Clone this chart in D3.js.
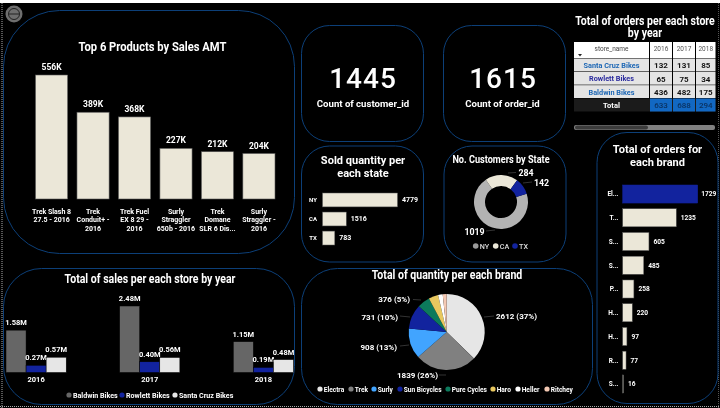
<!DOCTYPE html>
<html><head><meta charset="utf-8">
<script src="https://cdn.jsdelivr.net/npm/d3@7/dist/d3.min.js"></script>
<style>html,body{margin:0;padding:0;background:#000;overflow:hidden}svg{display:block;filter:blur(0.35px)}text{font-family:Roboto,sans-serif;fill:#fff}</style>
</head><body><svg id="c" width="720" height="408"></svg>
<script>
const productNames=[["Trek Slash 8","27.5 - 2016"],["Trek","Conduit+ -","2016"],["Trek Fuel","EX 8 29 -","2016"],["Surly","Straggler","650b - 2016"],["Trek","Domane","SLR 6 Dis..."],["Surly","Straggler -","2016"]];
const productSales=[556,389,368,227,212,204];
const years=["2016","2017","2018"];
const stores=["Baldwin Bikes","Rowlett Bikes","Santa Cruz Bikes"];
const baldwinSales=[1.58,2.48,1.15];
const rowlettSales=[0.27,0.40,0.19];
const santaCruzSales=[0.57,0.56,0.48];
const states=["NY","CA","TX"];
const stateQuantity=[4779,1516,783];
const stateCustomers=[1019,284,142];
const brandLabels=["El...","T...","S...","S...","P...","H...","H...","R...","S..."];
const brandOrders=[1729,1235,605,485,258,220,97,77,16];
const pieBrands=["Electra","Trek","Surly","Sun Bicycles","Pure Cycles","Haro","Heller","Ritchey"];
const pieQuantity=[2612,1839,908,731,376,287,137,118];
const tableStores=["Santa Cruz Bikes","Rowlett Bikes","Baldwin Bikes"];
const tableRows=[[132,131,85],[65,75,34],[436,482,175]];
const tableTotals=[633,688,294];
const cream="#ebe7d8",navy="#12239e",border="#0c3f78";
const svg=d3.select("#c");
function T(x,y,s,size,w,anchor,fill){const t=svg.append("text").attr("x",x).attr("y",y).attr("font-size",size).attr("font-weight",w||700).attr("text-anchor",anchor||"middle").text(s);if(fill)t.style("fill",fill);return t;}
// Title: same text helper, horizontally narrowed to imitate the condensed heading face
function H(x,y,s,size,k){return T(x,y,s,size).attr("transform",`translate(${x},${y}) scale(${k||0.88},1) translate(${-x},${-y})`);}
function panel(x,y,w,h,r){svg.append("rect").attr("x",x).attr("y",y).attr("width",w).attr("height",h).attr("rx",r).attr("fill","none").attr("stroke",border).attr("stroke-width",1);}

// chrome
svg.append("rect").attr("width",720).attr("height",3).attr("fill","#fff");
svg.append("line").attr("x1",2).attr("x2",2).attr("y1",3).attr("y2",408).attr("stroke","#aaa").attr("stroke-dasharray","1 1");
svg.append("line").attr("x1",0).attr("x2",720).attr("y1",406.5).attr("y2",406.5).attr("stroke","#aaa").attr("stroke-dasharray","1 1");
svg.append("line").attr("x1",718.5).attr("x2",718.5).attr("y1",3).attr("y2",408).attr("stroke","#555").attr("stroke-dasharray","1 1");
svg.append("circle").attr("cx",14).attr("cy",14).attr("r",8.5).attr("fill","#6e6e6e");
svg.append("circle").attr("cx",14).attr("cy",14).attr("r",5.5).attr("fill","none").attr("stroke","#222").attr("stroke-width",1);
svg.append("path").attr("d",d3.line()([[9,14],[19,14]])).attr("stroke","#222");

// Panels
panel(3.5,10.5,291,243,56);
panel(3.5,268.5,291,136,38);
panel(301.5,25.5,122,116,28);
panel(443.5,25.5,122,116,28);
panel(301.5,146,122,116,28);
panel(444,146,122,116,28);
panel(301.5,268.5,291,136,36);
panel(597,132.5,121,271,30);

// Top products
H(152.5,51,"Top 6 Products by Sales AMT",12.8,0.875);
const px=d3.scaleBand().domain(d3.range(6)).range([35.5,275]).paddingInner(0.225);
const py=d3.scaleLinear().domain([0,556]).range([199,75]);
svg.append("g").selectAll("rect").data(productSales).join("rect")
 .attr("x",(d,i)=>px(i)).attr("width",px.bandwidth()).attr("y",d=>py(d)).attr("height",d=>199-py(d))
 .attr("fill",cream).attr("stroke","#555").attr("stroke-width",.6);
productSales.forEach((d,i)=>{const cx=px(i)+px.bandwidth()/2;
 T(cx,py(d)-5,d+"K",8.5);
 productNames[i].forEach((l,j)=>T(cx,213.5+j*8.6,l,7));
});

// Sales per store
H(150,283,"Total of sales per each store by year",12);
const gx=d3.scaleBand().domain(years).range([6,293.5]).paddingInner(0.47);
const sx=d3.scaleBand().domain(stores).range([0,gx.bandwidth()]);
const sy=d3.scaleLinear().domain([0,2.48]).range([372.5,306]);
const storeSeries=[baldwinSales,rowlettSales,santaCruzSales];
const storeColors=["#666666",navy,"#e6e6e6"];
stores.forEach((s,k)=>{
 svg.append("g").selectAll("rect").data(storeSeries[k]).join("rect")
  .attr("x",(d,i)=>gx(years[i])+sx(s)).attr("width",sx.bandwidth()).attr("y",d=>sy(d)).attr("height",d=>372.5-sy(d))
  .attr("fill",storeColors[k]).attr("stroke","#000").attr("stroke-width",.5);
 storeSeries[k].forEach((d,i)=>T(gx(years[i])+sx(s)+sx.bandwidth()/2,sy(d)-5,d.toFixed(2)+"M",7.5));
});
years.forEach(y=>T(gx(y)+gx.bandwidth()/2,382,y,7.5));
const legS=[[69,"#666"],[122,navy],[175,"#e6e6e6"]];
stores.forEach((s,i)=>{svg.append("circle").attr("cx",legS[i][0]).attr("cy",395).attr("r",2.6).attr("fill",legS[i][1]);T(legS[i][0]+4,397.5,s,7.1,700,"start");});

// KPI
T(363,88,"1445",28,500).attr("letter-spacing",1);T(363,107,"Count of customer_id",9.6,700);
T(503,88,"1615",28,500).attr("letter-spacing",1);T(502.5,107,"Count of order_id",9.6,700);

// Sold quantity
H(363,164,"Sold quantity per",11.5,0.96);H(363,177,"each state",11.5,0.96);
const qx=d3.scaleLinear().domain([0,4779]).range([322.5,397.5]);
const qy=d3.scaleBand().domain(states).range([193,245]).paddingInner(0.27);
svg.append("g").selectAll("rect").data(stateQuantity).join("rect")
 .attr("x",322.5).attr("y",(d,i)=>qy(states[i])).attr("width",d=>qx(d)-322.5).attr("height",qy.bandwidth())
 .attr("fill",cream).attr("stroke","#555").attr("stroke-width",.5);
stateQuantity.forEach((d,i)=>{const m=qy(states[i])+qy.bandwidth()/2+2.2;T(313,m,states[i],6,700);T(qx(d)+4.5,m,d,7,700,"start");});

// Donut
H(501,163,"No. Customers by State",10.4);
const dc=[501,202];
const dG=svg.append("g").attr("transform",`translate(${dc})`);
const dStart=72*Math.PI/180;
const dPie=d3.pie().sort(null).startAngle(dStart).endAngle(dStart+2*Math.PI);
const dArc=d3.arc().innerRadius(16).outerRadius(27);
const dCol=["#b3b3b3",cream,navy];
dG.selectAll("path").data(dPie(stateCustomers)).join("path").attr("d",dArc).attr("fill",(d,i)=>dCol[i]);
T(526,176,"284",8.8);T(541.5,186,"142",8.8);T(474.5,234.5,"1019",8.8);
svg.append("path").attr("d","M508 173L516 172.5M523 183L532 182M495 230L486 231").attr("stroke","#333").attr("fill","none");
states.forEach((s,i)=>{const x=[475.7,495.7,515][i];svg.append("circle").attr("cx",x).attr("cy",246).attr("r",2.8).attr("fill",["#9a9a9a",cream,navy][i]);T(x+4,249,s,7.2,500,"start","#ddd");});

// Pie
H(447,279,"Total of quantity per each brand",12);
const pieColors=["#e6e6e6","#808080","#41a4ff","#12239e","#0c7a5c","#e8c85f","#ffffff","#f4c9b4"];
const pG=svg.append("g").attr("transform","translate(446.7,332)");
const pArc=d3.arc().innerRadius(0).outerRadius(38);
pG.selectAll("path").data(d3.pie().sort(null)(pieQuantity)).join("path").attr("d",pArc).attr("fill",(d,i)=>pieColors[i]);
const pct=d=>d+" ("+Math.round(d/d3.sum(pieQuantity)*100)+"%)";
const pieLab=[[496,318.5,"start"],[438,378,"end"],[397,349.5,"end"],[398,319.5,"end"],[410,302,"end"]];
pieLab.forEach((p,i)=>T(p[0],p[1],pct(pieQuantity[i]),8,700,p[2]));
svg.append("path").attr("d","M484 317L494 316M439 375L446 375M400 346L409 345M400 316L410 317M413 299.5L421 300").attr("stroke","#333").attr("fill","none");
const legP=[320,351,374,400,448,493,518,547];
pieBrands.forEach((b,i)=>{svg.append("circle").attr("cx",legP[i]).attr("cy",389).attr("r",2.6).attr("fill",pieColors[i]);T(legP[i]+3.7,391.5,b,6.6,700,"start");});

// Table
H(645,25,"Total of orders per each store",12);H(645,37.5,"by year",12);
const colX=[574,650,673,696],colW=[75,22,22,19.5];
const rowY=d3.scaleBand().domain(d3.range(3)).range([58.5,98]).paddingInner(0.04);
colX.forEach((x,c)=>svg.append("rect").attr("x",x).attr("y",42).attr("width",colW[c]).attr("height",16).attr("fill","#fff"));
T(611.5,51,"store_name",6.5,400,"middle","#444");
svg.append("path").attr("d","M578 54L582 54L580 56.5Z").attr("fill","#222");
years.forEach((y,c)=>T(colX[c+1]+colW[c+1]/2,51,y,6.5,400,"middle","#555"));
tableStores.forEach((s,r)=>{
 colX.forEach((x,c)=>svg.append("rect").attr("x",x).attr("y",rowY(r)).attr("width",colW[c]).attr("height",rowY.bandwidth()).attr("fill","#e4e4e4"));
 T(611.5,rowY(r)+9.5,s,7.3,700,"middle",r==1?"#2a2a9e":"#1d67b5");
 tableRows[r].forEach((v,c)=>T(colX[c+1]+colW[c+1]/2,rowY(r)+9.8,v,8,700,"middle","#111"));
});
svg.append("rect").attr("x",574).attr("y",98.5).attr("width",141.5).attr("height",13).attr("fill","#1b1b1b");
T(611.5,108,"Total",7.5);
tableTotals.forEach((v,c)=>{svg.append("rect").attr("x",colX[c+1]).attr("y",98.5).attr("width",colW[c+1]).attr("height",13).attr("fill","#1268c3");T(colX[c+1]+colW[c+1]/2,108,v,8,500,"middle","#0a2f5c");});
svg.append("rect").attr("x",574).attr("y",125).attr("width",141).attr("height",5).attr("rx",2).attr("fill","#808080");
svg.append("rect").attr("x",575).attr("y",125.5).attr("width",73).attr("height",4).attr("rx",2).attr("fill","#3c3c3c");

// Brand orders
H(657.5,153.5,"Total of orders for",11.5,0.96);H(657.5,166.5,"each brand",11.5,0.96);
const bx=d3.scaleLinear().domain([0,1729]).range([622.7,697.7]);
const by=d3.scaleBand().domain(d3.range(9)).range([185,393]).paddingInner(0.24);
svg.append("g").selectAll("rect").data(brandOrders).join("rect")
 .attr("x",622.7).attr("y",(d,i)=>by(i)).attr("width",d=>bx(d)-622.7).attr("height",by.bandwidth())
 .attr("fill",(d,i)=>i==0?navy:cream).attr("stroke",(d,i)=>i==0?navy:"#555").attr("stroke-width",.5);
brandOrders.forEach((d,i)=>{const m=by(i)+by.bandwidth()/2+2.3;T(618.5,m,brandLabels[i],6.5,700,"end");T(bx(d)+(i==0?3.5:4.5),m,d,6.6,700,"start");});
</script></body></html>
